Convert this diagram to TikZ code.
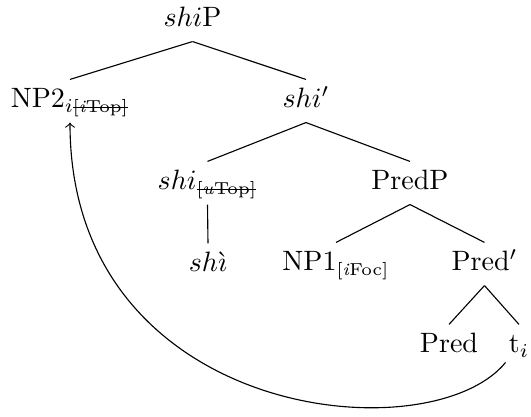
\documentclass[tikz,border=0pt]{standalone}
\newcommand{\subsz}{\fontsize{6.2}{7}\selectfont}
\newcommand{\feat}[1]{\mbox{\subsz #1}}
\newcommand{\strk}[1]{\setbox0\hbox{#1}\rlap{\rule[0.55ex]{\wd0}{0.4pt}}\box0}
\newcommand{\sfeat}[1]{\mbox{\subsz\strk{#1}}}
\begin{document}
\begin{tikzpicture}[x=0.357pt,y=-0.357pt,
  tn/.style={anchor=base,inner xsep=1pt,inner ysep=3pt,text height=7pt,text depth=2pt},
  br/.style={line width=0.4pt},
  mv/.style={->,line width=0.4pt}]
\useasboundingbox (0,0) rectangle (531,417);
\node[tn] (shiP) at (192.5,27) {$shi$P};
\node[tn] (NP2) at (70,108) {NP2$_{i\sfeat{[\textit{i}Top]}}$};
\node[tn] (shibar) at (306,108) {$shi'$};
\node[tn] (shiU) at (207.5,190) {$shi_{\sfeat{[\textit{u}Top]}}$};
\node[tn] (PredP) at (410,190) {PredP};
\node[tn] (shi) at (208,272) {$sh\grave{\imath}$};
\node[tn] (NP1) at (336,271) {NP1$_{\feat{[\textit{i}Foc]}}$};
\node[tn] (Predbar) at (484.5,271) {Pred$'$};
\node[tn] (Pred) at (449,353) {Pred};
\node[tn] (ti) at (519,353) {t$_i$};
\draw[br] (shiP.south) -- (NP2.north);
\draw[br] (shiP.south) -- (shibar.north);
\draw[br] (shibar.south) -- (shiU.north);
\draw[br] (shibar.south) -- (PredP.north);
\draw[br] (shiU.south) -- (shi.north);
\draw[br] (PredP.south) -- (NP1.north);
\draw[br] (PredP.south) -- (Predbar.north);
\draw[br] (Predbar.south) -- (Pred.north);
\draw[br] (Predbar.south) -- (ti.north);
\draw[mv] (ti) .. controls (430,455) and (70,420) .. (NP2.south);
\end{tikzpicture}
\end{document}
